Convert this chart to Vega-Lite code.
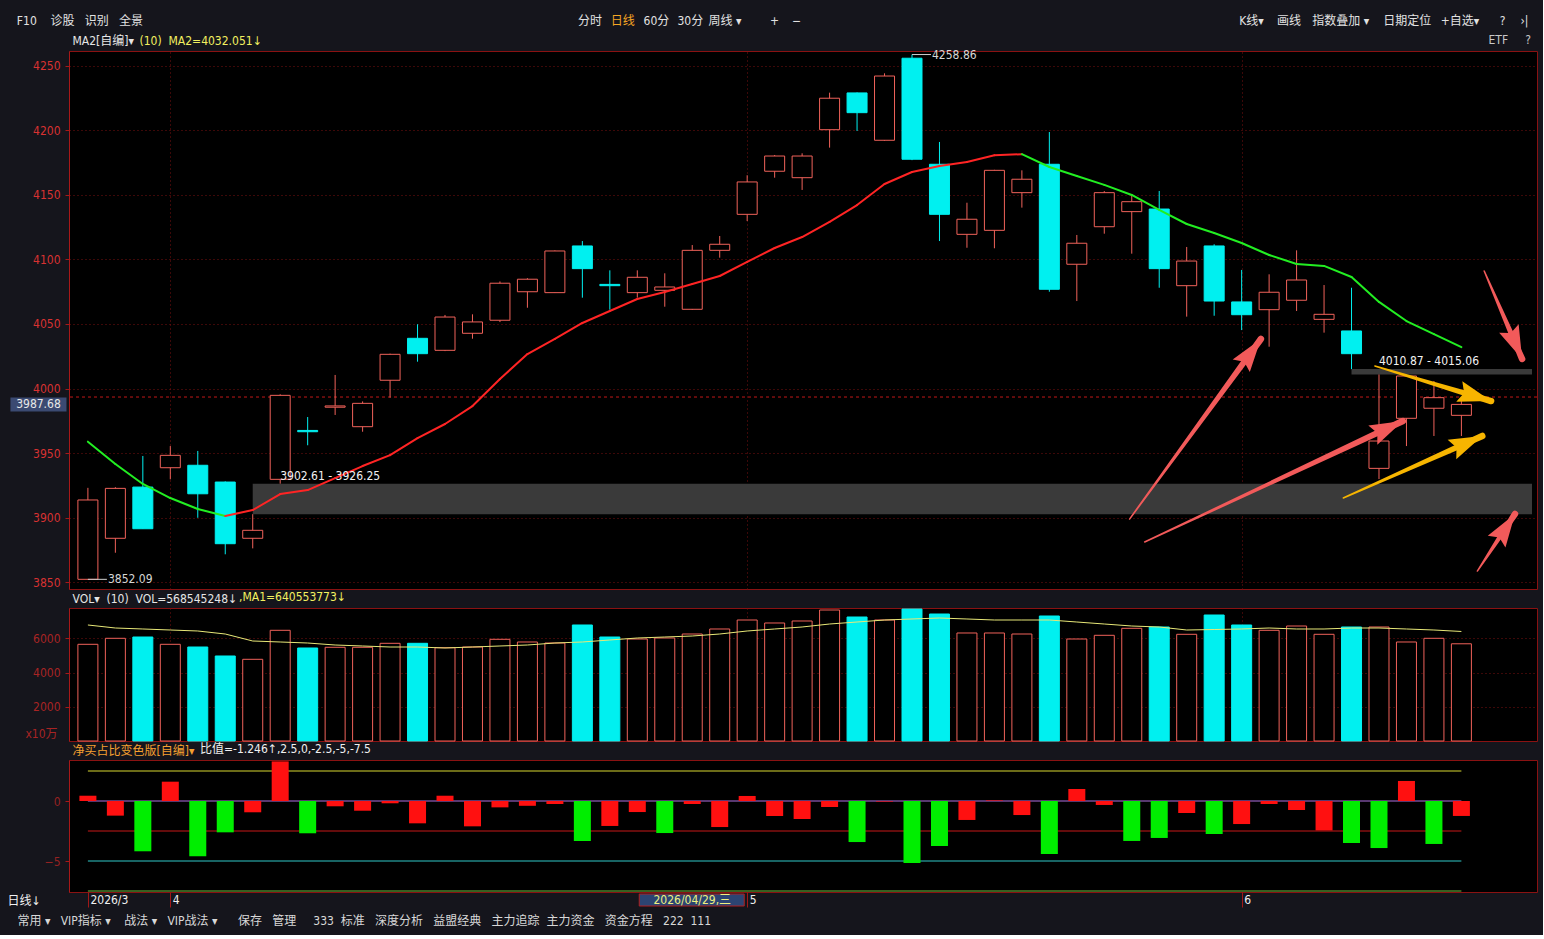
{
  "$schema": "https://vega.github.io/schema/vega-lite/v6.json",
  "background": "#15151c",
  "padding": {"left": 6, "top": 13, "right": 5, "bottom": 8},
  "title": {
    "text": "常用\u00a0▾\u00a0\u00a0\u00a0VIP指标\u00a0▾\u00a0\u00a0\u00a0\u00a0战法\u00a0▾\u00a0\u00a0\u00a0VIP战法\u00a0▾\u00a0\u00a0\u00a0\u00a0\u00a0\u00a0保存\u00a0\u00a0\u00a0管理\u00a0\u00a0\u00a0\u00a0\u00a0333\u00a0\u00a0标准\u00a0\u00a0\u00a0深度分析\u00a0\u00a0\u00a0益盟经典\u00a0\u00a0\u00a0主力追踪\u00a0\u00a0主力资金\u00a0\u00a0\u00a0资金方程\u00a0\u00a0\u00a0222\u00a0\u00a0111",
    "orient": "bottom", "anchor": "start", "frame": "bounds", "offset": 8, "dx": 11,
    "color": "#d8d8d8", "fontSize": 12, "fontWeight": "normal"
  },
  "datasets": {
    "k": [
      {"i":0,"o":3852.1,"h":3923,"l":3852.09,"c":3913.6,"ma":3958.8,"v":5655,"vm":6784,"r":0.44},
      {"i":1,"o":3883.9,"h":3923.5,"l":3872.7,"c":3922.6,"ma":3941.5,"v":6006,"vm":6608,"r":-1.22},
      {"i":2,"o":3923.6,"h":3947.7,"l":3891.3,"c":3891.3,"ma":3926,"v":6082,"vm":6550,"r":-4.19},
      {"i":3,"o":3938.6,"h":3955.4,"l":3929.6,"c":3948.2,"ma":3915.1,"v":5655,"vm":6491,"r":1.61},
      {"i":4,"o":3940.5,"h":3951.6,"l":3899.8,"c":3918.4,"ma":3906.6,"v":5497,"vm":6433,"r":-4.61},
      {"i":5,"o":3927.5,"h":3928,"l":3871.5,"c":3879.7,"ma":3901.2,"v":4971,"vm":6257,"r":-2.61},
      {"i":6,"o":3883.9,"h":3902.61,"l":3876.1,"c":3890.1,"ma":3905.8,"v":4778,"vm":5848,"r":-0.94},
      {"i":7,"o":3929.6,"h":3995.5,"l":3926.25,"c":3994.7,"ma":3918.2,"v":6474,"vm":5790,"r":3.3},
      {"i":8,"o":3967.5,"h":3977.9,"l":3956,"c":3966.5,"ma":3921.3,"v":5439,"vm":5731,"r":-2.69},
      {"i":9,"o":3985.5,"h":4010.5,"l":3979.5,"c":3986.5,"ma":3930.6,"v":5480,"vm":5614,"r":-0.44},
      {"i":10,"o":3970.4,"h":3990,"l":3966.5,"c":3988.5,"ma":3939.9,"v":5480,"vm":5556,"r":-0.81},
      {"i":11,"o":4006.4,"h":4027,"l":3992.9,"c":4026.5,"ma":3948.4,"v":5713,"vm":5497,"r":-0.19},
      {"i":12,"o":4038.9,"h":4049.8,"l":4020.8,"c":4027,"ma":3961.6,"v":5713,"vm":5497,"r":-1.86},
      {"i":13,"o":4029.6,"h":4057,"l":4029,"c":4055.4,"ma":3972.5,"v":5456,"vm":5439,"r":0.44},
      {"i":14,"o":4042.8,"h":4057.5,"l":4038.6,"c":4051.6,"ma":3986.4,"v":5497,"vm":5497,"r":-2.11},
      {"i":15,"o":4052.9,"h":4083,"l":4051.5,"c":4081.6,"ma":4007.4,"v":5947,"vm":5556,"r":-0.53},
      {"i":16,"o":4075,"h":4085.5,"l":4062.6,"c":4084.7,"ma":4026.7,"v":5790,"vm":5614,"r":-0.4},
      {"i":17,"o":4074.3,"h":4107,"l":4074,"c":4106.6,"ma":4038.4,"v":5731,"vm":5731,"r":-0.25},
      {"i":18,"o":4110.5,"h":4114.3,"l":4070.4,"c":4092.9,"ma":4050.8,"v":6784,"vm":5790,"r":-3.33},
      {"i":19,"o":4080.7,"h":4091.6,"l":4061.1,"c":4079.7,"ma":4060.1,"v":6082,"vm":5907,"r":-2.08},
      {"i":20,"o":4074.3,"h":4091.6,"l":4070.4,"c":4086.2,"ma":4069.4,"v":5965,"vm":6023,"r":-0.92},
      {"i":21,"o":4076.1,"h":4089.3,"l":4063.4,"c":4078.7,"ma":4074.8,"v":6023,"vm":6082,"r":-2.67},
      {"i":22,"o":4061.4,"h":4111.2,"l":4061,"c":4107.1,"ma":4081,"v":6257,"vm":6140,"r":-0.25},
      {"i":23,"o":4107.1,"h":4118.2,"l":4101.4,"c":4111.8,"ma":4087.2,"v":6550,"vm":6257,"r":-2.17},
      {"i":24,"o":4135,"h":4165.3,"l":4129.8,"c":4160.1,"ma":4098.1,"v":7076,"vm":6433,"r":0.42},
      {"i":25,"o":4168.4,"h":4181,"l":4163.4,"c":4180.2,"ma":4108.9,"v":6901,"vm":6550,"r":-1.25},
      {"i":26,"o":4163.4,"h":4182.3,"l":4153.9,"c":4180.2,"ma":4117.4,"v":7018,"vm":6667,"r":-1.5},
      {"i":27,"o":4200.6,"h":4229.3,"l":4186.7,"c":4225,"ma":4129.1,"v":7661,"vm":6842,"r":-0.5},
      {"i":28,"o":4229.1,"h":4229.5,"l":4199.6,"c":4213.8,"ma":4142.2,"v":7251,"vm":6959,"r":-3.42},
      {"i":29,"o":4192.4,"h":4244.3,"l":4192,"c":4242.2,"ma":4158.5,"v":7076,"vm":7076,"r":-0.05},
      {"i":30,"o":4256,"h":4258.86,"l":4177,"c":4177.7,"ma":4167.8,"v":7719,"vm":7135,"r":-5.17},
      {"i":31,"o":4173.8,"h":4191.1,"l":4114.3,"c":4135,"ma":4172.5,"v":7427,"vm":7193,"r":-3.75},
      {"i":32,"o":4119.5,"h":4144,"l":4109.1,"c":4131.2,"ma":4175.6,"v":6316,"vm":7135,"r":-1.58},
      {"i":33,"o":4122.6,"h":4169.5,"l":4108.7,"c":4169.1,"ma":4180.8,"v":6316,"vm":7076,"r":0.05},
      {"i":34,"o":4151.8,"h":4169.1,"l":4140.2,"c":4162.2,"ma":4181.6,"v":6257,"vm":7076,"r":-1.17},
      {"i":35,"o":4173.8,"h":4198.8,"l":4075,"c":4076.9,"ma":4171.7,"v":7310,"vm":7076,"r":-4.42},
      {"i":36,"o":4096.3,"h":4119,"l":4067.8,"c":4112.6,"ma":4164.7,"v":5965,"vm":6959,"r":1.0},
      {"i":37,"o":4125.4,"h":4153,"l":4120,"c":4151.8,"ma":4157.8,"v":6181,"vm":6842,"r":-0.33},
      {"i":38,"o":4137.1,"h":4149.2,"l":4104.5,"c":4144.8,"ma":4150,"v":6591,"vm":6725,"r":-3.33},
      {"i":39,"o":4139.1,"h":4153.1,"l":4078.1,"c":4092.9,"ma":4138.4,"v":6667,"vm":6667,"r":-3.08},
      {"i":40,"o":4079.7,"h":4109.7,"l":4055.7,"c":4098.8,"ma":4127.5,"v":6240,"vm":6491,"r":-1.0},
      {"i":41,"o":4110.5,"h":4111.8,"l":4056.4,"c":4067.8,"ma":4120.5,"v":7368,"vm":6520,"r":-2.75},
      {"i":42,"o":4067.1,"h":4091.9,"l":4045.3,"c":4057.2,"ma":4112.8,"v":6784,"vm":6550,"r":-1.92},
      {"i":43,"o":4061.1,"h":4088.5,"l":4032.4,"c":4074.6,"ma":4103.5,"v":6474,"vm":6608,"r":-0.25},
      {"i":44,"o":4068.4,"h":4107.1,"l":4060.1,"c":4084.1,"ma":4096.5,"v":6725,"vm":6550,"r":-0.75},
      {"i":45,"o":4053.6,"h":4080.2,"l":4043.3,"c":4057.5,"ma":4095,"v":6240,"vm":6550,"r":-2.45},
      {"i":46,"o":4044.6,"h":4078.1,"l":4015.06,"c":4027,"ma":4086.4,"v":6667,"vm":6608,"r":-3.5},
      {"i":47,"o":3938.1,"h":4010.87,"l":3929.8,"c":3959.3,"ma":4067.1,"v":6667,"vm":6608,"r":-3.92},
      {"i":48,"o":3976.9,"h":4010.5,"l":3955.4,"c":4009.7,"ma":4052.3,"v":5790,"vm":6550,"r":1.67},
      {"i":49,"o":3984.7,"h":4005.8,"l":3963.2,"c":3992.9,"ma":4042.2,"v":6006,"vm":6491,"r":-3.58},
      {"i":50,"o":3979.2,"h":3991.6,"l":3963.2,"c":3987.68,"ma":4032.05,"v":5685,"vm":6405.5,"r":-1.246}
    ],
    "zones": [
      {"s":6,"e":7,"lo":3902.61,"hi":3926.25,"t":"3902.61 - 3926.25"},
      {"s":46,"e":47,"lo":4010.87,"hi":4015.06,"t":"4010.87 - 4015.06"}
    ],
    "ext": [{"i":30,"v":4258.86},{"i":0,"v":3852.09}],
    "ref": [{"p":3993.4}],
    "lines": [{"n":"2.5","v":2.5},{"n":"0","v":0},{"n":"-2.5","v":-2.5},{"n":"-5","v":-5},{"n":"-7.5","v":-7.5}],
    "cursor": [{"i":22,"d":"2026/04/29,三"}],
    "arrows": [
      {"a":"A","c":"red","xs":[37.92,42.70],"ps":[3898.8,4038.4],"k":["tail","head"]},
      {"a":"B","c":"red","xs":[38.47,47.87],"ps":[3881,3974.8],"k":["tail","head"]},
      {"a":"C","c":"red","xs":[50.83,52.21],"ps":[4091.1,4022.9],"k":["tail","head"]},
      {"a":"D","c":"red","xs":[50.58,51.95],"ps":[3858.5,3902.7],"k":["tail","head"]},
      {"a":"E","c":"yellow","xs":[46.85,51.08],"ps":[4017.4,3990.3],"k":["tail","head"]},
      {"a":"F","c":"yellow","xs":[45.70,50.76],"ps":[3915.1,3963.2],"k":["tail","head"]}
    ]
  },
  "spacing": 19,
  "bounds": "flush",
  "resolve": {"scale": {"color": "independent", "size": "independent"}},
  "vconcat": [
    {
      "width": 1468,
      "height": 538,
      "title": {"text": "ETF\u00a0\u00a0\u00a0\u00a0\u00a0?", "anchor": "end", "frame": "group", "offset": -33, "dx": -6, "color": "#c8c8c8", "fontSize": 12, "fontWeight": "normal"},
      "layer": [
        {
          "data": {"name": "zones"},
          "mark": {"type": "rect", "color": "#3a3a3a"},
          "encoding": {
            "x": {
              "field": "s", "type": "quantitative",
              "scale": {"domain": [-0.506, 52.57], "nice": false, "zero": false},
              "axis": {
                "orient": "top",
                "values": [1.99, 3, 18.26, 19.45, 20.68, 21.91, 23.17, 24, 24.98, 25.78, 42, 42.34, 43.71, 45.59, 48.01, 49.93, 51.48, 52.28],
                "labelExpr": "datum.value == 1.99 ? 'F10\u00a0\u00a0\u00a0\u00a0诊股\u00a0\u00a0\u00a0识别\u00a0\u00a0\u00a0全景' : datum.value == 18.26 ? '分时' : datum.value == 19.45 ? '日线' : datum.value == 20.68 ? '60分' : datum.value == 21.91 ? '30分' : datum.value == 23.17 ? '周线 ▾' : datum.value == 24.98 ? '+' : datum.value == 25.78 ? '−' : datum.value == 42.34 ? 'K线▾' : datum.value == 43.71 ? '画线' : datum.value == 45.59 ? '指数叠加 ▾' : datum.value == 48.01 ? '日期定位' : datum.value == 49.93 ? '+自选▾' : datum.value == 51.48 ? '?' : datum.value == 52.28 ? '›|' : ''",
                "labelPadding": 31,
                "labelBaseline": "middle",
                "labelAlign": {"condition": {"test": "datum.value == 1.99", "value": "right"}, "value": "center"},
                "labelFontSize": 12,
                "labelOverlap": false,
                "labelBound": false,
                "labelFlush": false,
                "labelColor": {"condition": {"test": "datum.value == 19.45", "value": "#f5a623"}, "value": "#e2e2e2"},
                "ticks": false,
                "domain": false,
                "grid": true,
                "gridColor": "#7a1010",
                "gridDash": [1, 3],
                "gridOpacity": {"condition": {"test": "datum.value == 3 || datum.value == 24 || datum.value == 42", "value": 1}, "value": 0},
                "title": "MA2[自编]▾",
                "titleX": 3, "titleY": -4, "titleAlign": "left", "titleBaseline": "bottom", "titleAngle": 0,
                "titleColor": "#e6e6e6", "titleFontSize": 12, "titleFontWeight": "normal"
              }
            },
            "x2": {"datum": 52.57},
            "y": {
              "field": "lo", "type": "quantitative",
              "scale": {"domain": [3844.6, 4261.6], "nice": false, "zero": false},
              "axis": {
                "values": [3850, 3900, 3950, 4000, 4050, 4100, 4150, 4200, 4250],
                "format": "d",
                "labelOverlap": false,
                "labelBound": false,
                "labelColor": "#d83232",
                "labelFontSize": 12,
                "labelPadding": 5,
                "tickSize": 4,
                "tickColor": "#a81818",
                "domainColor": "#a81818",
                "grid": true,
                "gridColor": "#7a1010",
                "gridDash": [1, 3],
                "title": "(10)\u00a0\u00a0MA2=4032.051↓",
                "titleX": 70, "titleY": -4, "titleAlign": "left", "titleBaseline": "bottom", "titleAngle": 0,
                "titleColor": "#f2f060", "titleFontSize": 12, "titleFontWeight": "normal"
              }
            },
            "y2": {"field": "hi"}
          }
        },
        {
          "data": {"name": "ref"},
          "mark": {"type": "rule", "color": "#c01818", "strokeDash": [3, 3], "strokeWidth": 1},
          "encoding": {"y": {"field": "p", "type": "quantitative"}}
        },
        {
          "data": {"name": "k"},
          "mark": {"type": "rule", "strokeWidth": 1},
          "encoding": {
            "x": {"field": "i", "type": "quantitative"},
            "y": {"field": "l", "type": "quantitative"},
            "y2": {"field": "h"},
            "color": {"condition": {"test": "datum.c < datum.o", "value": "#00f0f0"}, "value": "#f0625a"}
          }
        },
        {
          "data": {"name": "k"},
          "mark": {"type": "bar", "size": 20, "strokeWidth": 1},
          "encoding": {
            "x": {"field": "i", "type": "quantitative"},
            "y": {"field": "o", "type": "quantitative"},
            "y2": {"field": "c"},
            "fill": {"condition": {"test": "datum.c < datum.o", "value": "#00f0f0"}, "value": "#000000"},
            "stroke": {"condition": {"test": "datum.c < datum.o", "value": "#00f0f0"}, "value": "#f0625a"}
          }
        },
        {
          "data": {"name": "k"},
          "transform": [
            {"window": [{"op": "lag", "field": "ma", "as": "pma"}, {"op": "lag", "field": "i", "as": "pi"}], "sort": [{"field": "i"}]},
            {"filter": "datum.pma != null"}
          ],
          "mark": {"type": "rule", "strokeWidth": 2, "strokeCap": "round"},
          "encoding": {
            "x": {"field": "pi", "type": "quantitative"},
            "x2": {"field": "i"},
            "y": {"field": "pma", "type": "quantitative"},
            "y2": {"field": "ma"},
            "color": {"condition": {"test": "datum.ma >= datum.pma", "value": "#ff2424"}, "value": "#22ee22"}
          }
        },
        {
          "data": {"name": "ext"},
          "mark": {"type": "rule", "color": "#cfcfcf", "x2Offset": 19, "strokeWidth": 1},
          "encoding": {
            "x": {"field": "i", "type": "quantitative"},
            "x2": {"field": "i"},
            "y": {"field": "v", "type": "quantitative"}
          }
        },
        {
          "data": {"name": "ext"},
          "mark": {"type": "text", "align": "left", "baseline": "middle", "dx": 20, "color": "#d6d6d6", "fontSize": 12},
          "encoding": {
            "x": {"field": "i", "type": "quantitative"},
            "y": {"field": "v", "type": "quantitative"},
            "text": {"field": "v", "type": "quantitative", "format": ".2f"}
          }
        },
        {
          "data": {"name": "zones"},
          "mark": {"type": "text", "align": "left", "baseline": "bottom", "dy": -1, "color": "#f2f2f2", "fontSize": 12},
          "encoding": {
            "x": {"field": "e", "type": "quantitative"},
            "y": {"field": "hi", "type": "quantitative"},
            "text": {"field": "t"}
          }
        },
        {
          "data": {"name": "arrows"},
          "transform": [{"flatten": ["xs", "ps", "k"]}],
          "mark": {"type": "trail"},
          "encoding": {
            "x": {"field": "xs", "type": "quantitative"},
            "y": {"field": "ps", "type": "quantitative"},
            "detail": {"field": "a"},
            "size": {"field": "k", "type": "ordinal", "scale": {"domain": ["tail", "head"], "range": [1.5, 6.5]}, "legend": null},
            "color": {"field": "c", "type": "nominal", "scale": {"domain": ["red", "yellow"], "range": ["#f25a5a", "#f7b500"]}, "legend": null}
          }
        },
        {
          "data": {"name": "arrows"},
          "transform": [
            {"calculate": "atan2((datum.xs[1] - datum.xs[0]) * 27.66, (datum.ps[1] - datum.ps[0]) * 1.29) * 180 / PI", "as": "ang"},
            {"calculate": "datum.xs[1]", "as": "tx"},
            {"calculate": "datum.ps[1]", "as": "tp"}
          ],
          "mark": {"type": "point", "shape": "M0,0L-0.64,2L0,1.7L0.64,2Z", "filled": true, "opacity": 1, "size": 1100, "strokeWidth": 0},
          "encoding": {
            "x": {"field": "tx", "type": "quantitative"},
            "y": {"field": "tp", "type": "quantitative"},
            "angle": {"field": "ang", "type": "quantitative", "scale": null},
            "color": {"field": "c", "type": "nominal", "scale": {"domain": ["red", "yellow"], "range": ["#f25a5a", "#f7b500"]}, "legend": null}
          }
        },
        {
          "data": {"name": "k"},
          "transform": [{"filter": "datum.i == 50"}],
          "mark": {"type": "rect", "color": "#3b4a72", "yOffset": -7, "y2Offset": 7},
          "encoding": {
            "x": {"datum": -2.82, "type": "quantitative"},
            "x2": {"datum": -0.78},
            "y": {"field": "c", "type": "quantitative"},
            "y2": {"field": "c"}
          }
        },
        {
          "data": {"name": "k"},
          "transform": [{"filter": "datum.i == 50"}],
          "mark": {"type": "text", "color": "#e8e8e8", "fontSize": 12, "align": "center", "baseline": "middle"},
          "encoding": {
            "x": {"datum": -1.8, "type": "quantitative"},
            "y": {"field": "c", "type": "quantitative"},
            "text": {"field": "c", "type": "quantitative", "format": ".2f"}
          }
        }
      ]
    },
    {
      "width": 1468,
      "height": 133,
      "title": {"text": ",MA1=640553773↓", "anchor": "start", "frame": "group", "offset": -12, "dx": 170, "color": "#f2f060", "fontSize": 12, "fontWeight": "normal"},
      "layer": [
        {
          "data": {"name": "k"},
          "mark": {"type": "bar", "size": 20, "strokeWidth": 1},
          "encoding": {
            "x": {
              "field": "i", "type": "quantitative",
              "scale": {"domain": [-0.506, 52.57], "nice": false, "zero": false},
              "axis": {
                "values": [3, 24, 42], "labels": false, "ticks": false, "domain": false,
                "grid": true, "gridColor": "#7a1010", "gridDash": [1, 3],
                "title": "VOL▾\u00a0\u00a0(10)\u00a0\u00a0VOL=568545248↓",
                "titleX": 3, "titleY": -136, "titleAlign": "left", "titleBaseline": "bottom", "titleAngle": 0,
                "titleColor": "#e6e6e6", "titleFontSize": 12, "titleFontWeight": "normal"
              }
            },
            "y": {
              "field": "v", "type": "quantitative",
              "scale": {"domain": [0, 7778], "nice": false},
              "axis": {
                "values": [2000, 4000, 6000],
                "format": "d",
                "labelOverlap": false,
                "labelBound": false,
                "labelColor": "#a82424",
                "labelFontSize": 12,
                "labelPadding": 5,
                "tickSize": 4,
                "tickColor": "#a81818",
                "domainColor": "#a81818",
                "grid": true,
                "gridColor": "#7a1010",
                "gridDash": [1, 3],
                "title": "x10万",
                "titleX": -12, "titleY": 132, "titleAlign": "right", "titleBaseline": "bottom", "titleAngle": 0,
                "titleColor": "#a82424", "titleFontSize": 12, "titleFontWeight": "normal"
              }
            },
            "fill": {"condition": {"test": "datum.c < datum.o", "value": "#00f0f0"}, "value": "#000000"},
            "stroke": {"condition": {"test": "datum.c < datum.o", "value": "#00f0f0"}, "value": "#f0625a"}
          }
        },
        {
          "data": {"name": "k"},
          "mark": {"type": "line", "color": "#e8e878", "strokeWidth": 1},
          "encoding": {
            "x": {"field": "i", "type": "quantitative"},
            "y": {"field": "vm", "type": "quantitative"}
          }
        }
      ]
    },
    {
      "width": 1468,
      "height": 132,
      "title": {"text": "比值=-1.246↑,2.5,0,-2.5,-5,-7.5", "anchor": "start", "frame": "group", "offset": -12, "dx": 131, "color": "#f0f0f0", "fontSize": 12, "fontWeight": "normal"},
      "layer": [
        {
          "data": {"name": "lines"},
          "mark": {"type": "rule", "strokeWidth": 1},
          "encoding": {
            "x": {"datum": 0, "type": "quantitative"},
            "x2": {"datum": 50},
            "y": {"field": "v", "type": "quantitative"},
            "color": {"field": "n", "type": "nominal", "scale": {"domain": ["2.5", "0", "-2.5", "-5", "-7.5"], "range": ["#d8d830", "#b070e0", "#c81818", "#30c8c8", "#70c040"]}, "legend": null}
          }
        },
        {
          "data": {"name": "k"},
          "mark": {"type": "bar", "size": 17},
          "encoding": {
            "x": {
              "field": "i", "type": "quantitative",
              "scale": {"domain": [-0.506, 52.57], "nice": false, "zero": false},
              "axis": {
                "values": [0, 3, 24, 42],
                "labelExpr": "datum.value == 0 ? '2026/3' : datum.value == 3 ? '4' : datum.value == 24 ? '5' : '6'",
                "labelAlign": "left",
                "labelBaseline": "top",
                "labelOffset": 2,
                "labelPadding": -13,
                "labelColor": "#f0f0f0",
                "labelFontSize": 12,
                "labelOverlap": false,
                "labelBound": false,
                "labelFlush": false,
                "tickSize": 15,
                "tickColor": "#a01818",
                "domain": false,
                "grid": false,
                "title": "净买占比变色版[自编]▾",
                "titleX": 3, "titleY": -135, "titleAlign": "left", "titleBaseline": "bottom", "titleAngle": 0,
                "titleColor": "#f5a030", "titleFontSize": 12, "titleFontWeight": "normal"
              }
            },
            "y": {
              "field": "r", "type": "quantitative",
              "scale": {"domain": [-7.583, 3.417], "nice": false, "zero": false},
              "axis": {
                "values": [0, -5],
                "format": "d",
                "labelOverlap": false,
                "labelBound": false,
                "labelColor": "#952222",
                "labelFontSize": 12,
                "labelPadding": 5,
                "tickSize": 4,
                "tickColor": "#a81818",
                "domainColor": "#a81818",
                "grid": false,
                "title": "日线↓",
                "titleX": -62, "titleY": 140, "titleAlign": "left", "titleBaseline": "middle", "titleAngle": 0,
                "titleColor": "#f0f0f0", "titleFontSize": 12, "titleFontWeight": "normal"
              }
            },
            "y2": {"datum": 0},
            "color": {"condition": {"test": "datum.r < -2.5", "value": "#00ee00"}, "value": "#ff1010"}
          }
        },
        {
          "data": {"name": "cursor"},
          "mark": {"type": "rect", "fill": "#2c4472", "stroke": "#b02020", "strokeWidth": 1, "xOffset": -53, "x2Offset": 52},
          "encoding": {
            "x": {"field": "i", "type": "quantitative"},
            "x2": {"field": "i"},
            "y": {"datum": -7.75, "type": "quantitative"},
            "y2": {"datum": -8.75}
          }
        },
        {
          "data": {"name": "cursor"},
          "mark": {"type": "text", "color": "#f0f080", "fontSize": 12, "align": "center", "baseline": "middle"},
          "encoding": {
            "x": {"field": "i", "type": "quantitative"},
            "y": {"datum": -8.25, "type": "quantitative"},
            "text": {"field": "d"}
          }
        }
      ]
    }
  ],
  "config": {
    "font": "Liberation Sans Narrow, DejaVu Sans Condensed, Noto Sans CJK SC, sans-serif",
    "view": {"fill": "#000000", "stroke": "#8a1212", "strokeWidth": 1},
    "axis": {"titleFontWeight": "normal"},
    "title": {"fontWeight": "normal"}
  }
}
